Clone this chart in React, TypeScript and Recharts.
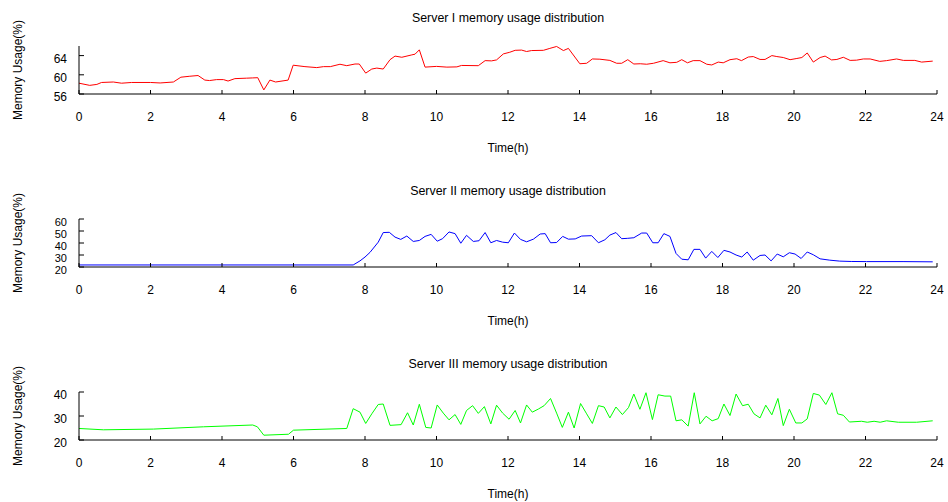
import { LineChart, Line, XAxis, YAxis } from 'recharts';

const hourTicks = [0, 2, 4, 6, 8, 10, 12, 14, 16, 18, 20, 22, 24];

const server1Hours = [0, 0.3, 0.5, 0.63, 0.96, 1.19, 1.47, 2.0, 2.27, 2.64, 2.85, 3.1, 3.33, 3.52, 3.65, 3.85, 4.04, 4.17, 4.36, 4.69, 4.86, 5.0, 5.17, 5.34, 5.5, 5.85, 5.99, 6.32, 6.65, 6.84, 7.03, 7.3, 7.49, 7.72, 7.84, 8.02, 8.19, 8.33, 8.51, 8.7, 8.84, 9.03, 9.31, 9.4, 9.52, 9.68, 10.0, 10.29, 10.57, 10.7, 11.17, 11.36, 11.54, 11.68, 11.87, 12.05, 12.2, 12.38, 12.52, 12.66, 12.99, 13.17, 13.36, 13.55, 13.69, 14.01, 14.2, 14.36, 14.57, 14.85, 15.04, 15.18, 15.35, 15.52, 15.7, 15.88, 16.07, 16.34, 16.53, 16.72, 16.86, 17.02, 17.18, 17.37, 17.56, 17.7, 17.88, 18.02, 18.21, 18.4, 18.53, 18.72, 18.86, 19.05, 19.19, 19.38, 19.52, 19.7, 19.89, 20.08, 20.22, 20.37, 20.54, 20.73, 20.87, 21.05, 21.2, 21.38, 21.57, 21.75, 21.94, 22.13, 22.4, 22.59, 22.87, 23.06, 23.38, 23.57, 23.88];
const server1Usage = [58.25, 57.8, 58.0, 58.4, 58.5, 58.25, 58.4, 58.4, 58.3, 58.5, 59.5, 59.7, 59.85, 58.9, 58.8, 59.0, 59.0, 58.7, 59.2, 59.3, 59.35, 59.4, 56.85, 58.9, 58.5, 58.9, 62.0, 61.7, 61.5, 61.7, 61.7, 62.2, 61.9, 62.25, 62.25, 60.35, 61.2, 61.4, 61.2, 63.15, 63.9, 63.65, 64.15, 64.3, 65.2, 61.6, 61.75, 61.6, 61.65, 61.95, 61.9, 62.95, 62.9, 63.1, 64.35, 64.7, 65.1, 65.15, 64.85, 65.05, 65.1, 65.5, 65.9, 65.05, 65.5, 62.3, 62.4, 63.3, 63.25, 63.0, 62.4, 62.4, 63.15, 62.25, 62.3, 62.2, 62.4, 62.95, 62.5, 62.6, 63.15, 62.5, 62.95, 62.95, 62.2, 62.05, 62.65, 62.5, 63.15, 63.35, 62.95, 63.7, 63.8, 63.2, 63.2, 64.0, 63.8, 63.6, 63.15, 63.4, 63.6, 64.55, 62.65, 63.6, 63.9, 63.1, 63.2, 63.65, 63.0, 63.05, 63.3, 63.3, 62.8, 62.95, 63.3, 63.0, 63.0, 62.65, 62.85];

const server2Hours = [0, 7.67, 7.86, 8.0, 8.14, 8.37, 8.51, 8.68, 8.84, 9.0, 9.17, 9.35, 9.52, 9.68, 9.85, 10.02, 10.17, 10.35, 10.52, 10.68, 10.84, 11.03, 11.19, 11.36, 11.52, 11.68, 11.85, 12.01, 12.18, 12.35, 12.52, 12.71, 12.9, 13.04, 13.19, 13.36, 13.53, 13.69, 13.88, 14.06, 14.34, 14.53, 14.71, 14.85, 15.02, 15.18, 15.35, 15.52, 15.74, 15.88, 16.05, 16.2, 16.36, 16.53, 16.7, 16.86, 17.04, 17.2, 17.37, 17.53, 17.7, 17.87, 18.04, 18.21, 18.38, 18.54, 18.69, 18.86, 19.05, 19.19, 19.36, 19.53, 19.7, 19.87, 20.03, 20.2, 20.37, 20.54, 20.73, 21.0, 21.28, 21.6, 22.03, 23.05, 23.88];
const server2Usage = [21.7, 21.7, 25.1, 28.3, 32.2, 40.7, 48.7, 48.9, 44.9, 43.0, 45.8, 41.3, 42.1, 45.5, 47.2, 41.5, 43.6, 49.2, 47.8, 39.8, 46.4, 41.3, 41.9, 48.7, 40.2, 42.1, 40.7, 40.2, 48.3, 43.0, 41.0, 43.2, 47.5, 47.8, 40.2, 40.4, 45.5, 43.2, 43.4, 45.8, 46.1, 40.2, 42.7, 46.6, 48.7, 43.6, 43.9, 44.4, 48.3, 48.3, 40.2, 40.2, 47.8, 45.5, 31.3, 26.5, 26.0, 34.7, 34.7, 27.4, 33.0, 27.9, 33.9, 32.5, 30.0, 28.3, 32.5, 25.7, 29.6, 30.0, 25.1, 30.8, 28.5, 31.9, 30.8, 27.1, 32.5, 30.2, 26.8, 25.7, 24.9, 24.6, 24.5, 24.5, 24.3];

const server3Hours = [0, 0.68, 2.08, 3.48, 4.86, 4.99, 5.17, 5.86, 6.0, 7.49, 7.67, 7.86, 8.02, 8.19, 8.37, 8.51, 8.7, 9.01, 9.19, 9.35, 9.52, 9.7, 9.85, 10.02, 10.19, 10.35, 10.52, 10.68, 10.84, 11.01, 11.17, 11.34, 11.52, 11.68, 11.85, 12.03, 12.2, 12.35, 12.52, 12.68, 12.85, 13.01, 13.19, 13.36, 13.52, 13.69, 13.85, 14.03, 14.2, 14.36, 14.53, 14.69, 14.85, 15.02, 15.2, 15.37, 15.52, 15.69, 15.86, 16.04, 16.2, 16.39, 16.55, 16.7, 16.86, 17.04, 17.21, 17.37, 17.54, 17.71, 17.88, 18.04, 18.21, 18.38, 18.56, 18.72, 18.88, 19.05, 19.21, 19.38, 19.55, 19.7, 19.87, 20.05, 20.22, 20.37, 20.54, 20.71, 20.89, 21.06, 21.22, 21.38, 21.55, 21.89, 22.05, 22.24, 22.41, 22.59, 22.92, 23.43, 23.88];
const server3Usage = [24.8, 24.25, 24.55, 25.5, 26.25, 25.5, 22.0, 22.4, 24.1, 24.8, 33.05, 31.6, 26.9, 30.9, 34.8, 35.0, 26.1, 26.4, 31.35, 26.25, 34.9, 25.25, 25.0, 34.6, 31.2, 28.4, 30.6, 26.5, 32.3, 34.3, 31.1, 33.9, 26.7, 34.5, 31.2, 28.65, 32.3, 27.1, 34.6, 31.6, 32.9, 34.3, 37.3, 31.2, 25.25, 31.6, 25.0, 35.2, 30.9, 26.9, 34.3, 33.75, 29.2, 33.75, 30.6, 33.5, 39.15, 32.8, 39.7, 28.5, 38.85, 38.3, 38.3, 28.0, 28.4, 25.8, 39.7, 26.7, 29.9, 28.0, 28.9, 35.0, 30.2, 39.15, 34.3, 34.9, 30.9, 29.2, 34.5, 30.5, 37.3, 26.0, 32.8, 27.1, 27.1, 28.8, 39.4, 38.7, 34.8, 39.7, 30.9, 30.3, 27.5, 27.8, 27.4, 27.8, 27.4, 28.0, 27.4, 27.4, 28.0];

const FONT = '"Liberation Sans", Arial, sans-serif';

const XTick = (props: any) => {
  const { x, y, payload } = props;
  return (
    <g>
      <line x1={x} y1={y} x2={x} y2={y - 4} stroke="#000" strokeWidth={1} />
      <text x={x} y={y + 23} textAnchor="middle" dominantBaseline="central" fontSize={12} fontFamily={FONT} fill="#000">
        {payload.value}
      </text>
    </g>
  );
};

const YTick = (props: any) => {
  const { x, y, payload, labelSize } = props;
  return (
    <g>
      <line x1={x} y1={y} x2={x + 5} y2={y} stroke="#000" strokeWidth={1} />
      <text x={x - 12} y={y + 3} textAnchor="end" dominantBaseline="central" fontSize={labelSize} fontFamily={FONT} fill="#000">
        {payload.value}
      </text>
    </g>
  );
};

function Panel({ title, hours, usage, color, domain, ticks, top, labelSize = 12 }: any) {
  const data = hours.map((t: number, i: number) => ({ t, v: usage[i] }));
  return (
    <div style={{ position: 'absolute', left: 0, top, width: 948, height: 173 }}>
      <div style={{ position: 'absolute', left: 79, width: 858, top: 11, lineHeight: '14px', textAlign: 'center', fontSize: 12.4, fontFamily: FONT }}>
        {title}
      </div>
      <div style={{ position: 'absolute', left: 79, width: 858, top: 141, lineHeight: '14px', textAlign: 'center', fontSize: 12, fontFamily: FONT }}>
        Time(h)
      </div>
      <div
        style={{
          position: 'absolute', left: 18 - 60, top: 70 - 7, width: 120, lineHeight: '14px', textAlign: 'center',
          fontSize: 12, fontFamily: FONT, transform: 'rotate(-90deg)', whiteSpace: 'nowrap',
        }}
      >
        Memory Usage(%)
      </div>
      <div style={{ position: 'absolute', left: 0, top: 0 }}>
        <LineChart width={948} height={173} data={data} margin={{ top: 46, right: 11, bottom: 0, left: 0 }}>
          <XAxis
            dataKey="t"
            type="number"
            domain={[0, 24]}
            ticks={hourTicks}
            height={79}
            tickSize={0}
            tickMargin={0}
            tickLine={false}
            axisLine={{ stroke: '#000', strokeWidth: 1 }}
            tick={(p: any) => <XTick {...p} />}
            interval={0}
          />
          <YAxis
            type="number"
            domain={domain}
            ticks={ticks}
            width={79}
            tickSize={0}
            tickMargin={0}
            tickLine={false}
            axisLine={{ stroke: '#000', strokeWidth: 1 }}
            tick={(p: any) => <YTick {...p} labelSize={labelSize} />}
            interval={0}
          />
          <Line type="linear" dataKey="v" stroke={color} strokeWidth={1} dot={false} isAnimationActive={false} />
        </LineChart>
      </div>
    </div>
  );
}

export default function App() {
  return (
    <div style={{ position: 'absolute', left: 0, top: 0, width: 948, height: 502, background: '#fff', overflow: 'hidden' }}>
      <Panel title="Server I memory usage distribution" hours={server1Hours} usage={server1Usage} color="#ff0000" domain={[56, 66]} ticks={[56, 60, 64]} top={0} />
      <Panel title="Server II memory usage distribution" hours={server2Hours} usage={server2Usage} color="#0000ff" domain={[20, 60]} ticks={[20, 30, 40, 50, 60]} top={173} labelSize={11} />
      <Panel title="Server III memory usage distribution" hours={server3Hours} usage={server3Usage} color="#00ff00" domain={[20, 40]} ticks={[20, 30, 40]} top={346} />
    </div>
  );
}
